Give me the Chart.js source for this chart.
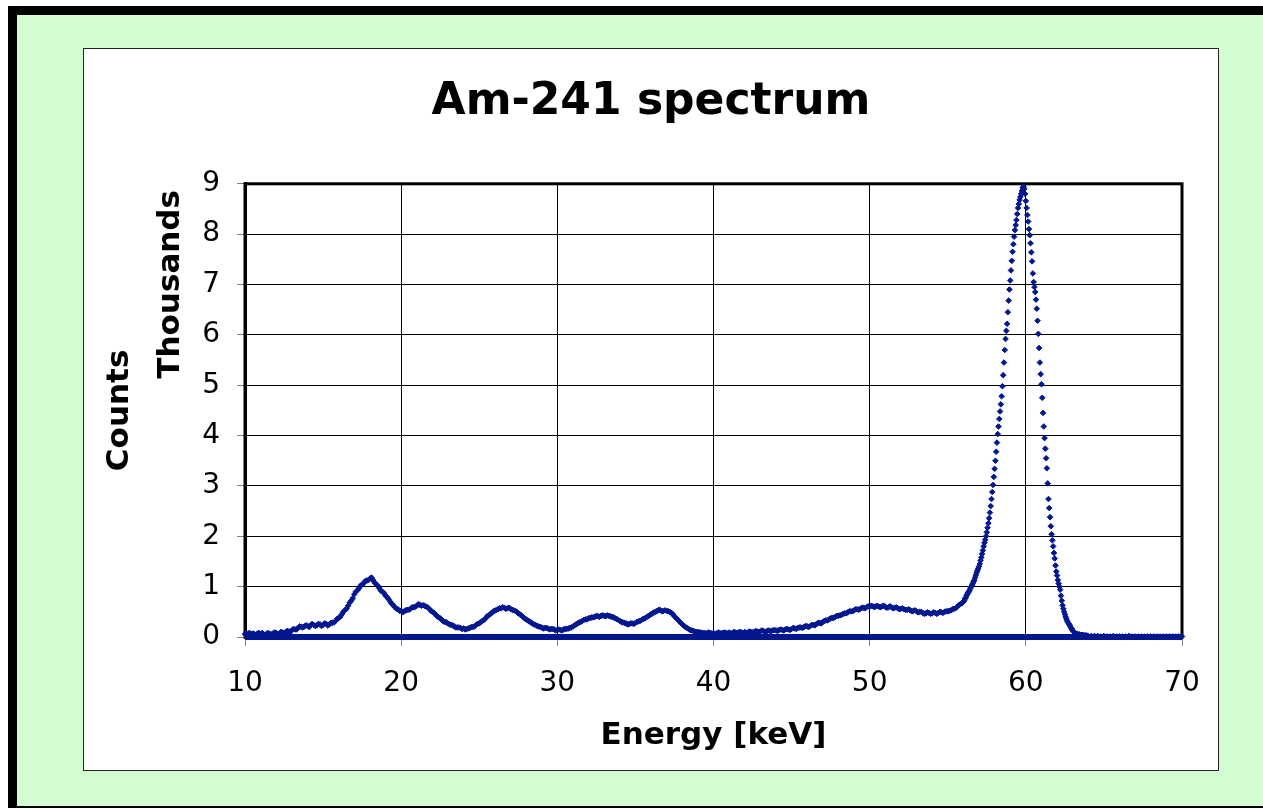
<!DOCTYPE html>
<html>
<head>
<meta charset="utf-8">
<title>Am-241 spectrum</title>
<script src="https://cdn.jsdelivr.net/npm/chart.js@4.4.1/dist/chart.umd.min.js"></script>
<style>
  html, body { margin: 0; padding: 0; background: #fff; overflow: hidden; }
  #frame {
    position: absolute; left: 8px; top: 6px; width: 1300px; height: 791px;
    background: #d2fcd2;
    border-left: 9px solid #000; border-top: 9px solid #000; border-bottom: 2px solid #000;
  }
  #box {
    position: absolute; left: 83px; top: 48px; width: 1134px; height: 721px;
    background: #fff; border: 1px solid #222;
  }
  #box canvas { display: block; }
</style>
</head>
<body>
<div id="frame"></div>
<div id="box"><canvas id="myChart" width="1134" height="721"></canvas></div>
<script>
'use strict';
// counts are in thousands
// 10.0 - 55.8 keV, every 0.2 keV
let lowStart = 10.0;
let lowStep = 0.2;
let lowCounts = [
  0.06, 0.07, 0.05, 0.06, 0.07,
  0.06, 0.05, 0.07, 0.06, 0.07,
  0.08, 0.07, 0.09, 0.10, 0.11,
  0.13, 0.15, 0.18, 0.20, 0.21,
  0.22, 0.23, 0.24, 0.23, 0.25,
  0.24, 0.26, 0.25, 0.28, 0.32,
  0.38, 0.45, 0.53, 0.62, 0.72,
  0.85, 0.93, 1.02, 1.07, 1.12,
  1.16, 1.13, 1.05, 0.97, 0.90,
  0.82, 0.75, 0.66, 0.59, 0.55,
  0.52, 0.51, 0.54, 0.56, 0.59,
  0.62, 0.64, 0.63, 0.60, 0.56,
  0.50, 0.45, 0.39, 0.34, 0.30,
  0.27, 0.24, 0.21, 0.19, 0.18,
  0.17, 0.16, 0.18, 0.20, 0.24,
  0.27, 0.32, 0.37, 0.43, 0.48,
  0.52, 0.55, 0.57, 0.58, 0.57,
  0.56, 0.53, 0.50, 0.45, 0.40,
  0.35, 0.31, 0.27, 0.24, 0.21,
  0.19, 0.18, 0.17, 0.16, 0.15,
  0.14, 0.14, 0.15, 0.16, 0.18,
  0.21, 0.25, 0.29, 0.32, 0.35,
  0.37, 0.39, 0.40, 0.41, 0.42,
  0.42, 0.43, 0.41, 0.39, 0.36,
  0.32, 0.29, 0.27, 0.26, 0.27,
  0.28, 0.31, 0.34, 0.37, 0.41,
  0.45, 0.49, 0.52, 0.53, 0.52,
  0.52, 0.50, 0.45, 0.38, 0.31,
  0.25, 0.20, 0.16, 0.13, 0.11,
  0.10, 0.09, 0.08, 0.08, 0.08,
  0.08, 0.07, 0.08, 0.08, 0.08,
  0.09, 0.08, 0.09, 0.09, 0.09,
  0.10, 0.09, 0.10, 0.10, 0.11,
  0.11, 0.12, 0.11, 0.12, 0.13,
  0.13, 0.14, 0.14, 0.15, 0.15,
  0.16, 0.17, 0.18, 0.19, 0.20,
  0.21, 0.22, 0.24, 0.26, 0.28,
  0.30, 0.33, 0.35, 0.38, 0.40,
  0.42, 0.44, 0.47, 0.49, 0.51,
  0.53, 0.55, 0.56, 0.58, 0.59,
  0.60, 0.61, 0.61, 0.60, 0.61,
  0.60, 0.59, 0.59, 0.58, 0.57,
  0.56, 0.55, 0.54, 0.53, 0.52,
  0.51, 0.50, 0.48, 0.47, 0.48,
  0.47, 0.48, 0.48, 0.49, 0.50,
  0.51, 0.53, 0.56, 0.60, 0.65
];

// the channels in between, 10.1 - 55.9 keV (noisier)
let lowOddStart = 10.1;
let lowOddStep = 0.2;
let lowOddCounts = [
  0.04, 0.08, 0.07, 0.04, 0.08,
  0.08, 0.04, 0.08, 0.05, 0.09,
  0.06, 0.10, 0.08, 0.12, 0.10,
  0.16, 0.15, 0.21, 0.19, 0.23,
  0.20, 0.26, 0.22, 0.26, 0.22,
  0.27, 0.23, 0.28, 0.29, 0.36,
  0.40, 0.50, 0.56, 0.68, 0.77,
  0.90, 0.97, 1.04, 1.11, 1.13,
  1.18, 1.08, 1.02, 0.92, 0.87,
  0.79, 0.70, 0.63, 0.56, 0.52,
  0.49, 0.53, 0.54, 0.59, 0.60,
  0.65, 0.62, 0.62, 0.59, 0.52,
  0.48, 0.41, 0.37, 0.31, 0.29,
  0.25, 0.23, 0.19, 0.19, 0.16,
  0.15, 0.17, 0.20, 0.21, 0.26,
  0.30, 0.34, 0.41, 0.45, 0.51,
  0.54, 0.57, 0.59, 0.56, 0.58,
  0.54, 0.52, 0.47, 0.43, 0.37,
  0.33, 0.29, 0.25, 0.22, 0.20,
  0.17, 0.18, 0.15, 0.16, 0.13,
  0.15, 0.13, 0.16, 0.17, 0.19,
  0.23, 0.27, 0.30, 0.34, 0.35,
  0.38, 0.39, 0.42, 0.40, 0.43,
  0.41, 0.42, 0.40, 0.37, 0.34,
  0.30, 0.28, 0.25, 0.27, 0.26,
  0.30, 0.32, 0.36, 0.39, 0.43,
  0.47, 0.50, 0.54, 0.51, 0.53,
  0.51, 0.48, 0.41, 0.35, 0.28,
  0.22, 0.18, 0.14, 0.12, 0.10,
  0.09, 0.08, 0.07, 0.09, 0.07,
  0.06, 0.09, 0.07, 0.09, 0.07,
  0.07, 0.10, 0.08, 0.10, 0.08,
  0.08, 0.11, 0.09, 0.12, 0.10,
  0.13, 0.10, 0.13, 0.12, 0.14,
  0.12, 0.15, 0.13, 0.16, 0.14,
  0.18, 0.16, 0.19, 0.18, 0.22,
  0.20, 0.24, 0.23, 0.28, 0.27,
  0.32, 0.33, 0.37, 0.38, 0.42,
  0.43, 0.46, 0.47, 0.51, 0.51,
  0.55, 0.54, 0.58, 0.57, 0.61,
  0.62, 0.59, 0.62, 0.59, 0.62,
  0.58, 0.61, 0.57, 0.59, 0.55,
  0.57, 0.54, 0.55, 0.51, 0.53,
  0.49, 0.50, 0.46, 0.49, 0.46,
  0.49, 0.46, 0.50, 0.48, 0.51,
  0.52, 0.55, 0.57, 0.63, 0.67
];

// 56.00 - 63.95 keV, the 59.5 keV gamma peak, every 0.05 keV
let peakStart = 56.0;
let peakStep = 0.05;
let peakCounts = [
  0.70, 0.72, 0.76, 0.78, 0.82, 0.85, 0.88, 0.90, 0.93, 0.97,
  1.00, 1.03, 1.06, 1.10, 1.13, 1.18, 1.23, 1.28, 1.32, 1.36,
  1.40, 1.45, 1.52, 1.58, 1.65, 1.72, 1.80, 1.87, 1.93, 2.00,
  2.08, 2.17, 2.26, 2.36, 2.47, 2.60, 2.74, 2.88, 3.02, 3.18,
  3.34, 3.50, 3.68, 3.86, 4.03, 4.18, 4.33, 4.48, 4.62, 4.78,
  4.98, 5.20, 5.45, 5.70, 5.92, 6.08, 6.22, 6.45, 6.68, 6.90,
  7.08, 7.28, 7.47, 7.65, 7.80, 7.95, 8.08, 8.18, 8.28, 8.40,
  8.52, 8.60, 8.68, 8.74, 8.80, 8.86, 8.92, 8.95, 8.90, 8.80,
  8.66, 8.52, 8.38, 8.25, 8.10, 7.98, 7.82, 7.64, 7.46, 7.22,
  7.05, 6.95, 6.85, 6.70, 6.52, 6.28, 6.02, 5.74, 5.45, 5.22,
  5.02, 4.75, 4.45, 4.18, 3.95, 3.74, 3.55, 3.35, 3.05, 2.74,
  2.56, 2.38, 2.20, 2.04, 1.92, 1.80, 1.67, 1.56, 1.42, 1.30,
  1.22, 1.13, 1.06, 1.00, 0.94, 0.82, 0.72, 0.63, 0.56, 0.50,
  0.45, 0.40, 0.36, 0.32, 0.29, 0.26, 0.24, 0.21, 0.18, 0.16,
  0.13, 0.11, 0.09, 0.08, 0.07, 0.06, 0.06, 0.05, 0.05, 0.05,
  0.04, 0.04, 0.04, 0.04, 0.03, 0.03, 0.03, 0.03, 0.03, 0.02
];

// 64.0 - 70.0 keV, every 0.2 keV
let tailStart = 64.0;
let tailStep = 0.2;
let tailCounts = [
  0.02, 0.02, 0.02, 0.02, 0.01, 0.02, 0.01, 0.01, 0.02, 0.01,
  0.01, 0.01, 0.01, 0.02, 0.01, 0.01, 0.01, 0.01, 0.01, 0.01,
  0.01, 0.01, 0.01, 0.01, 0.01, 0.01, 0.01, 0.01, 0.01, 0.01,
  0.01
];

// the zero series that runs along the bottom
let zeroEnergy = [10, 70];
let zeroCounts = [0, 0];

let energyTicks = [10, 20, 30, 40, 50, 60, 70];
let countTicks = [0, 1, 2, 3, 4, 5, 6, 7, 8, 9];

let blue = '#03188f';
let fontFamily = "'DejaVu Sans', Verdana, sans-serif";

let spectrum = [];
function addChannels(start, step, counts) {
  for (let i = 0; i < counts.length; i++) {
    spectrum.push({ x: Math.round((start + i * step) * 100) / 100, y: counts[i] });
  }
}
addChannels(lowStart, lowStep, lowCounts);
addChannels(lowOddStart, lowOddStep, lowOddCounts);
addChannels(peakStart, peakStep, peakCounts);
addChannels(tailStart, tailStep, tailCounts);
spectrum.sort((a, b) => a.x - b.x);

let zeroLine = [];
for (let i = 0; i < zeroEnergy.length; i++) {
  zeroLine.push({ x: zeroEnergy[i], y: zeroCounts[i] });
}

// black frame round the plot area, under the points
let plotFrame = {
  id: 'plotFrame',
  beforeDatasetsDraw(chart) {
    let a = chart.chartArea;
    let ctx = chart.ctx;
    ctx.save();
    ctx.strokeStyle = '#000';
    ctx.lineWidth = 3;
    ctx.strokeRect(a.left, a.top, a.right - a.left, a.bottom - a.top);
    ctx.restore();
  }
};

let ctx = document.getElementById('myChart').getContext('2d');
let myChart = new Chart(ctx, {
  type: 'scatter',
  data: {
    datasets: [{
      label: 'Counts',
      data: spectrum,
      pointStyle: 'rectRot',
      pointRadius: 2.8,
      pointBorderWidth: 1,
      backgroundColor: blue,
      borderColor: blue,
      clip: false,
      order: 1
    }, {
      type: 'line',
      label: 'Zero',
      data: zeroLine,
      borderColor: blue,
      borderWidth: 6,
      pointRadius: 0,
      clip: false,
      order: 2
    }]
  },
  options: {
    responsive: false,
    animation: false,
    layout: { padding: 0 },
    plugins: {
      legend: { display: false },
      tooltip: { enabled: false },
      title: {
        display: true,
        text: 'Am-241 spectrum',
        color: '#000',
        font: { family: fontFamily, size: 44, weight: 'bold' },
        padding: { top: 27, bottom: 55 }
      }
    },
    scales: {
      x: {
        type: 'linear',
        position: 'bottom',
        min: 10,
        max: 70,
        afterBuildTicks: s => { s.ticks = energyTicks.map(v => ({ value: v })); },
        afterFit: s => { s.height = 133; },
        grid: { color: '#000', lineWidth: 1, tickLength: 9, tickColor: '#808080' },
        border: { color: '#000', width: 3 },
        ticks: { color: '#000', font: { family: fontFamily, size: 28, lineHeight: 2.5 }, padding: 3, maxRotation: 0 },
        title: {
          display: true,
          text: 'Energy [keV]',
          color: '#000',
          font: { family: fontFamily, size: 31, weight: 'bold' },
          padding: { top: 0, bottom: 15 }
        }
      },
      y: {
        type: 'linear',
        position: 'left',
        weight: 0,
        min: 0,
        max: 9,
        afterBuildTicks: s => { s.ticks = countTicks.map(v => ({ value: v })); },
        afterFit: s => { s.width = 93; },
        grid: { color: '#000', lineWidth: 1, tickLength: 8, tickColor: '#808080' },
        border: { color: '#000', width: 3 },
        ticks: { color: '#000', font: { family: fontFamily, size: 28 }, padding: 17 },
        title: {
          display: true,
          text: 'Thousands\u2009',
          align: 'end',
          color: '#000',
          font: { family: fontFamily, size: 31, weight: 'bold' },
          padding: 0
        }
      },
      counts: {
        type: 'linear',
        position: 'left',
        weight: 1,
        afterFit: s => { s.width = 68; },
        grid: { display: false },
        border: { display: false },
        ticks: { display: false },
        title: {
          display: true,
          text: 'Counts',
          color: '#000',
          font: { family: fontFamily, size: 31, weight: 'bold' },
          padding: { top: 17, bottom: 0 }
        }
      },
      pad: {
        type: 'linear',
        position: 'right',
        afterFit: s => { s.width = 36; },
        grid: { display: false },
        border: { display: false },
        ticks: { display: false }
      }
    }
  },
  plugins: [plotFrame]
});
</script>
</body>
</html>
